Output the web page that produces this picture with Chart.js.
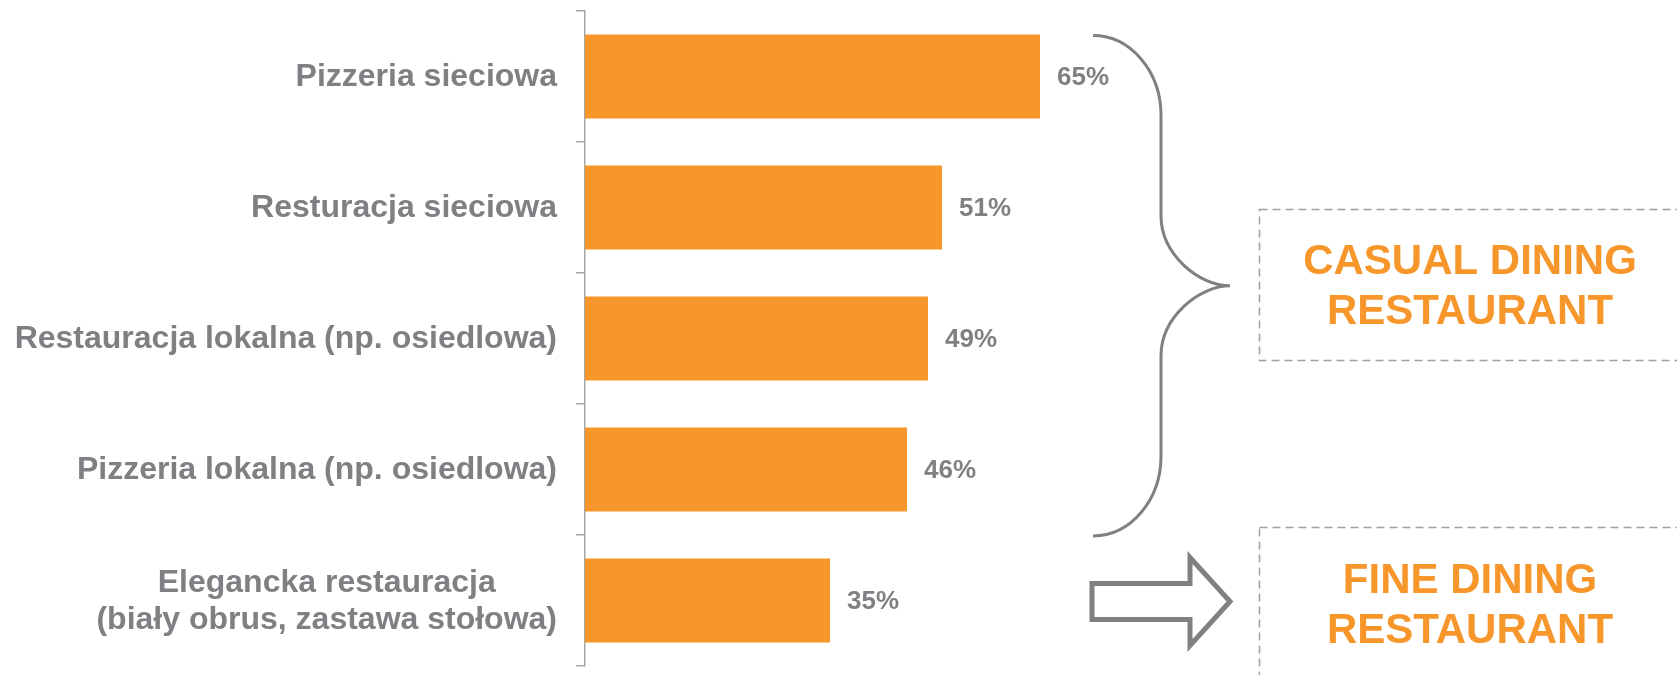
<!DOCTYPE html>
<html>
<head>
<meta charset="utf-8">
<title>Restauracje</title>
<script src="https://cdn.jsdelivr.net/npm/chart.js@4.4.1/dist/chart.umd.min.js"></script>
<style>
  html, body { margin: 0; padding: 0; background: #fff; }
  #wrap { position: relative; width: 1677px; height: 675px; }
</style>
</head>
<body>
<div id="wrap"><canvas id="chart"></canvas></div>
<script>
// data
const categories = [
  ['Pizzeria sieciowa'],
  ['Resturacja sieciowa'],
  ['Restauracja lokalna (np. osiedlowa)'],
  ['Pizzeria lokalna (np. osiedlowa)'],
  ['Elegancka restauracja', '(biały obrus, zastawa stołowa)']
];
const values = [65, 51, 49, 46, 35];
const groupLabels = [['CASUAL DINING', 'RESTAURANT'], ['FINE DINING', 'RESTAURANT']];

const ORANGE = '#f7962a';
const GREY_TXT = '#808084';
const GREY_LINE = '#a6a6a6';
const FONT = '"Liberation Sans", Arial, sans-serif';

// category names, value labels and the brace / boxes / arrow on the right
const extras = {
  id: 'extras',
  afterDraw(chart) {
    const ctx = chart.ctx;
    const y = chart.scales.y;
    const meta = chart.getDatasetMeta(0);
    ctx.save();

    // category labels (multi-line ones centred on their widest line)
    ctx.fillStyle = GREY_TXT;
    ctx.font = 'bold 32px ' + FONT;
    ctx.textAlign = 'center';
    ctx.textBaseline = 'middle';
    const rightX = y.right - 28;
    const lineH = 37;
    categories.forEach((lines, i) => {
      const cy = y.getPixelForValue(i);
      const w = Math.max(...lines.map(l => ctx.measureText(l).width));
      const cx = rightX - w / 2;
      lines.forEach((l, j) => {
        ctx.fillText(l, cx, cy + (j - (lines.length - 1) / 2) * lineH + 1);
      });
    });

    // value labels
    ctx.font = 'bold 26px ' + FONT;
    ctx.textAlign = 'left';
    meta.data.forEach((bar, i) => {
      ctx.fillText(values[i] + '%', bar.x + 17, bar.y + 1);
    });

    // curly brace around the first four bars
    const top = meta.data[0].y - meta.data[0].height / 2 + 1;
    const bot = (y.getPixelForValue(3) + y.getPixelForValue(4)) / 2 + 1;
    const mid = (top + bot) / 2;
    const x0 = 1093, x1 = 1161, x2 = 1230;
    const ry1 = 80, ry2 = 70;
    const k = 0.5523;
    ctx.strokeStyle = '#808080';
    ctx.lineWidth = 3;
    ctx.beginPath();
    ctx.moveTo(x0, top);
    ctx.bezierCurveTo(x0 + (x1 - x0) * k, top, x1, top + ry1 * (1 - k), x1, top + ry1);
    ctx.lineTo(x1, mid - ry2);
    ctx.bezierCurveTo(x1, mid - ry2 * (1 - k), x2 - (x2 - x1) * (1 - k), mid, x2, mid);
    ctx.bezierCurveTo(x2 - (x2 - x1) * (1 - k), mid, x1, mid + ry2 * (1 - k), x1, mid + ry2);
    ctx.lineTo(x1, bot - ry1);
    ctx.bezierCurveTo(x1, bot - ry1 * (1 - k), x0 + (x1 - x0) * k, bot, x0, bot);
    ctx.stroke();

    // arrow pointing at the fine dining box
    const ay = y.getPixelForValue(4) + 1;
    ctx.lineWidth = 5;
    ctx.lineJoin = 'miter';
    ctx.beginPath();
    ctx.moveTo(1092, ay - 18);
    ctx.lineTo(1190, ay - 18);
    ctx.lineTo(1190, ay - 44);
    ctx.lineTo(1230, ay);
    ctx.lineTo(1190, ay + 44);
    ctx.lineTo(1190, ay + 18);
    ctx.lineTo(1092, ay + 18);
    ctx.closePath();
    ctx.stroke();

    // dashed boxes with group names
    ctx.strokeStyle = '#a0a0a0';
    ctx.lineWidth = 1.5;
    ctx.setLineDash([8, 5]);
    ctx.strokeRect(1259.5, 209.5, 500, 151);
    ctx.strokeRect(1259.5, 527.5, 500, 200);
    ctx.setLineDash([]);

    ctx.fillStyle = ORANGE;
    ctx.font = 'bold 42px ' + FONT;
    ctx.textAlign = 'center';
    const boxText = [[262, 312], [581, 631]];
    groupLabels.forEach((lines, g) => {
      lines.forEach((l, j) => ctx.fillText(l, 1470, boxText[g][j]));
    });
    ctx.restore();
  }
};

new Chart(document.getElementById('chart'), {
  type: 'bar',
  data: {
    labels: categories,
    datasets: [{
      data: values,
      backgroundColor: ORANGE,
      borderWidth: 0,
      barPercentage: 0.64,
      categoryPercentage: 1
    }]
  },
  options: {
    indexAxis: 'y',
    responsive: true,
    maintainAspectRatio: false,
    animation: false,
    layout: { padding: { top: 11, bottom: 9, left: 0, right: 392 } },
    plugins: { legend: { display: false }, tooltip: { enabled: false } },
    scales: {
      x: { display: false, min: 0, max: 100 },
      y: {
        offset: true,
        afterFit(scale) { scale.width = 585; },
        ticks: { display: false },
        grid: {
          offset: true,
          drawOnChartArea: false,
          drawTicks: true,
          tickLength: 9,
          color: GREY_LINE,
          lineWidth: 1.5
        },
        border: { display: true, color: GREY_LINE, width: 1.5 }
      }
    }
  },
  plugins: [extras]
});
</script>
</body>
</html>
